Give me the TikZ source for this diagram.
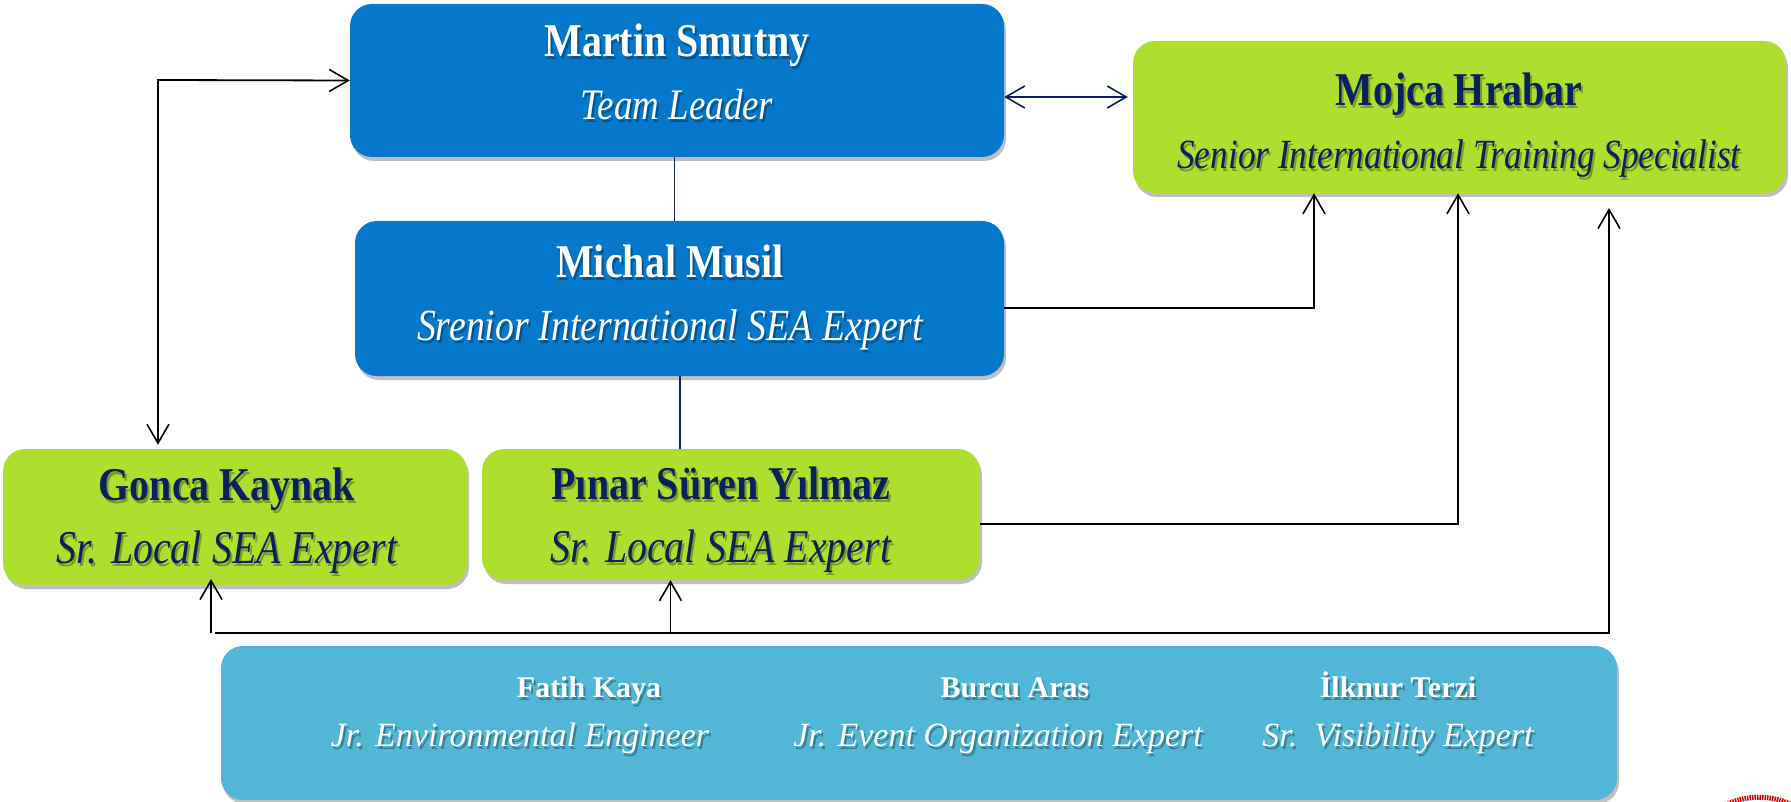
\documentclass[tikz,border=0pt]{standalone}
\usepackage{fontspec}
\setmainfont[FakeStretch=0.85]{Liberation Serif}
\newfontfamily\plainserif{Liberation Serif}
\usetikzlibrary{arrows.meta,shadows}
\definecolor{boxblue}{HTML}{0678CC}
\definecolor{boxgreen}{HTML}{AFDF2E}
\definecolor{boxteal}{HTML}{52B6D6}
\definecolor{inknavy}{HTML}{0A2160}
\newcommand{\softtext}[2]{\leavevmode\rlap{\kern2pt\raisebox{-3pt}{\textcolor{#1}{#2}}}#2}
\newcommand{\persontext}[4]{\softtext{#1}{\fontsize{47}{48}\selectfont\bfseries #2}\\[15pt]\softtext{#1}{\fontsize{#4}{48}\selectfont\itshape #3}}
\newcommand{\smallname}[1]{\softtext{boxteal!70!black}{\plainserif\fontsize{30}{36}\selectfont\bfseries #1}}
\newcommand{\smallrole}[1]{\softtext{boxteal!70!black}{\plainserif\fontsize{34}{36}\selectfont\itshape #1}}
\begin{document}
\begin{tikzpicture}[x=1pt,y=-1pt]
\tikzset{box/.style = {rectangle, rounded corners=22pt, drop shadow={shadow xshift=2pt, shadow yshift=-4pt, opacity=0.5}, inner sep=0pt}}
\tikzset{bluebox/.style = {box, fill=boxblue}}
\tikzset{greenbox/.style = {box, fill=boxgreen}}
\tikzset{tealbox/.style = {box, fill=boxteal, minimum width=1396pt, minimum height=154pt}}
\tikzset{words/.style = {anchor=base, align=center, inner sep=0pt, font=\fontsize{40}{48}\selectfont}}
\tikzset{link/.style = {-, line width=1.8pt, black}}
\tikzset{navylink/.style = {-, line width=1.6pt, inknavy}}
\tikzset{>={Straight Barb[length=19pt,width=22pt,line width=1.6pt]}}
\useasboundingbox (0,0) rectangle (1791,802);
% boxes
\node[bluebox, minimum width=654pt, minimum height=153pt](martin) at (677,80.5) {};
\node[bluebox, minimum width=649pt, minimum height=155pt](michal) at (679.5,298.5) {};
\node[greenbox, minimum width=653pt, minimum height=152pt](mojca) at (1459.5,117) {};
\node[greenbox, minimum width=464pt, minimum height=136pt](gonca) at (235,517) {};
\node[greenbox, minimum width=498pt, minimum height=131pt](pinar) at (731,514.5) {};
\node[tealbox](team) at (919,723) {};
% texts
\node[words, text=white] (martintext) at (677,120) {\persontext{boxblue!70!black}{Martin Smutny}{Team Leader}{43.5}};
\node[words, text=white] (michaltext) at (670,341) {\persontext{boxblue!70!black}{Michal Musil}{Srenior International SEA Expert}{44.5}};
\node[words, text=inknavy] (mojcatext) at (1459,169) {\persontext{boxgreen!70!black}{Mojca Hrabar}{Senior International Training Specialist}{41.5}};
\node[words, text=inknavy] (goncatext) at (227,563) {\persontext{boxgreen!70!black}{Gonca Kaynak}{Sr. Local SEA Expert}{47}};
\node[words, text=inknavy] (pinartext) at (721,562) {\persontext{boxgreen!70!black}{Pınar Süren Yılmaz}{Sr. Local SEA Expert}{47}};
\node[words, text=white] (fatihname) at (589,697) {\smallname{Fatih Kaya}};
\node[words, text=white] (fatihrole) at (520,746) {\smallrole{Jr. Environmental Engineer}};
\node[words, text=white] (burcuname) at (1015,697) {\smallname{Burcu Aras}};
\node[words, text=white] (burcurole) at (998,746) {\smallrole{Jr. Event Organization Expert}};
\node[words, text=white] (ilknurname) at (1398,697) {\smallname{İlknur Terzi}};
\node[words, text=white] (ilknurrole) at (1398,746) {\smallrole{Sr.\ \ Visibility Expert}};
% bends and free ends
\coordinate (leftbend) at (158,80);
\coordinate (musilbend) at (1314,308);
\coordinate (pinarbend) at (1458,524);
\coordinate (busleft) at (215,633);
\coordinate (busright) at (1609,633);
\coordinate (bustop) at (1609,208);
\coordinate (goncastub) at (211,633);
\coordinate (goncatip) at (211,579);
% connectors
\draw[link,<->] (martin.west) -- (leftbend) -- ([yshift=4pt]leftbend |- gonca.north);
\draw[navylink] (martin.south -| 674.5,0) -- (michal.north -| 674.5,0);
\draw[navylink] (michal.south -| 680,0) -- (pinar.north -| 680,0);
\draw[navylink,<->] (martin.east |- 0,97) -- ([xshift=-5pt]mojca.west |- 0,97);
\draw[link,->] (michal.east |- 0,308) -- (musilbend) -- (musilbend |- mojca.south);
\draw[link,->] (pinar.east |- 0,524) -- (pinarbend) -- (pinarbend |- mojca.south);
\draw[link,->] (busleft) -- (busright) -- (bustop);
\draw[link,->] (goncastub) -- (goncatip);
\draw[link,->] (busleft -| 670.5,0) -- (pinar.south -| 670.5,0);
% corner of the emblem
\draw[red!85!black, line width=5pt, dash pattern=on 1.5pt off 1pt] (1728,804) .. controls (1745,795) and (1772,795) .. (1790,804);
\end{tikzpicture}
\end{document}
